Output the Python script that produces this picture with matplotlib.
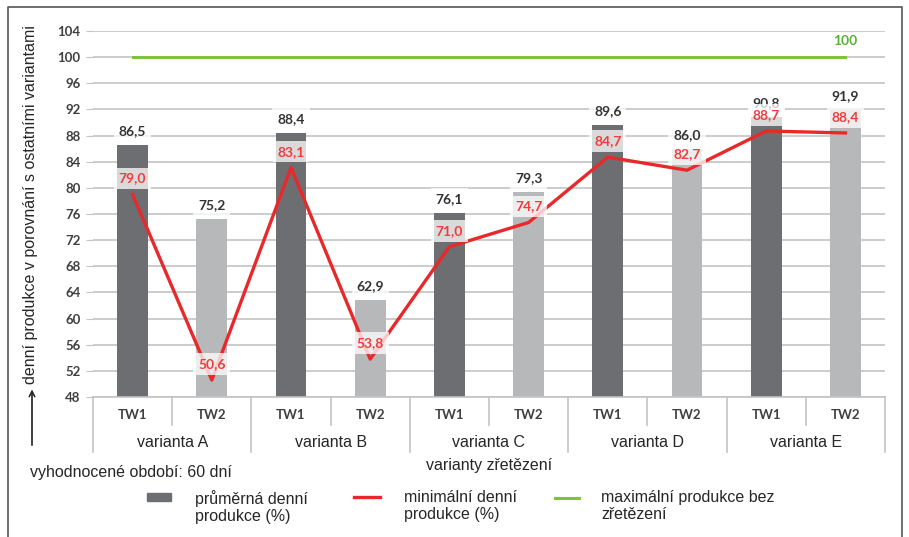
import matplotlib.pyplot as plt
from matplotlib.lines import Line2D
from matplotlib.patches import Rectangle

# data
variants = ['varianta A', 'varianta B', 'varianta C', 'varianta D', 'varianta E']
windows = ['TW1', 'TW2']
avg_prod = [86.5, 75.2, 88.4, 62.9, 76.1, 79.3, 89.6, 86.0, 90.8, 91.9]
min_prod = [79.0, 50.6, 83.1, 53.8, 71.0, 74.7, 84.7, 82.7, 88.7, 88.4]
max_prod = [100, 100, 100, 100, 100, 100, 100, 100, 100, 100]
yticks = [48, 52, 56, 60, 64, 68, 72, 76, 80, 84, 88, 92, 96, 100, 104]

W, H = 909, 537
DARK = '#6d6e71'
LIGHT = '#b6b8ba'
RED = '#e8292b'
GREEN = '#7dc243'
GRID = '#c3c3c3'
TXT = '#262626'
NUM = 'Lato'
SANS = 'Liberation Sans'
FS = 11.5


def fx(px):
    return px / W


def fy(py):
    return 1 - py / H


def fmt(v):
    return f'{v:.1f}'.replace('.', ',')


fig = plt.figure(figsize=(W / 100, H / 100), dpi=100)
ax = fig.add_axes([fx(93), fy(397), 792 / W, 366 / H])

n = len(avg_prod)
xs = [i + 0.5 for i in range(n)]
colors = [DARK if i % 2 == 0 else LIGHT for i in range(n)]

ax.bar(xs, [v - 48 for v in avg_prod], bottom=48, width=0.39, color=colors, zorder=2)
ax.plot(xs, min_prod, color=RED, lw=2.4, zorder=3)
ax.plot(xs, max_prod, color=GREEN, lw=2.2, zorder=3)

box = dict(boxstyle='square,pad=0.35', fc='white', ec='none', alpha=0.75)
for x, v in zip(xs, avg_prod):
    ax.annotate(fmt(v), (x, v), xytext=(0, 14), textcoords='offset pixels',
                ha='center', va='center', fontsize=10, fontweight='bold',
                family=NUM, color='#333333', bbox=box, zorder=4)
for x, v in zip(xs, min_prod):
    ax.annotate(fmt(v), (x, v), xytext=(0, 16), textcoords='offset pixels',
                ha='center', va='center', fontsize=10, fontweight='bold',
                family=NUM, color='#f03c3c', bbox=box, zorder=5)
ax.annotate(str(max_prod[-1]), (xs[-1], max_prod[-1]), xytext=(0, 16),
            textcoords='offset pixels', ha='center', va='center', fontsize=10,
            fontweight='bold', family=NUM, color='#5bb136', zorder=5)

ax.set_xlim(0, n)
ax.set_ylim(yticks[0], yticks[-1])
ax.set_yticks(yticks)
ax.set_yticklabels([str(t) for t in yticks], family=NUM, fontweight='bold',
                   fontsize=9.5, color='#404040')
ax.tick_params(axis='y', length=5, color=GRID, pad=4)
ax.set_xticks([])
ax.yaxis.grid(True, color=GRID, lw=1.2, zorder=0)
ax.set_axisbelow(True)
for side in ['left', 'top', 'right']:
    ax.spines[side].set_visible(False)
ax.spines['bottom'].set_color(GRID)
ax.spines['bottom'].set_linewidth(1.2)

# two-level category axis
xt = ax.get_xaxis_transform()
for b in range(n + 1):
    low = -0.150 if b % 2 == 0 else -0.077
    ax.plot([b, b], [0, low], color=GRID, lw=1.2, transform=xt, clip_on=False)
for i, x in enumerate(xs):
    ax.text(x, -0.049, windows[i % 2], transform=xt, ha='center', va='center',
            family=NUM, fontweight='bold', fontsize=9.5, color='#404040')
for j, name in enumerate(variants):
    ax.text(2 * j + 1, -0.123, name, transform=xt, ha='center', va='center',
            family=SANS, fontsize=FS, color=TXT)
ax.text(n / 2, -0.186, 'varianty zřetězení', transform=xt, ha='center',
        va='center', family=SANS, fontsize=FS, color=TXT)

# y axis title with arrow
fig.text(fx(31), fy(205), 'denní produkce v porovnání s ostatními variantami',
         rotation=90, ha='center', va='center', family=SANS, fontsize=FS, color=TXT)
fig.add_artist(plt.annotate('', xy=(fx(32), fy(387)), xytext=(fx(32), fy(448)),
                            xycoords='figure fraction', textcoords='figure fraction',
                            arrowprops=dict(arrowstyle='->', color=TXT, lw=0.9)))

fig.text(fx(30), fy(472), 'vyhodnocené období: 60 dní', ha='left', va='center',
         family=SANS, fontsize=FS, color=TXT)

# legend
fig.add_artist(Rectangle((fx(147), fy(501)), 24 / W, 8 / H, color=DARK,
                         transform=fig.transFigure))
fig.add_artist(Line2D([fx(354), fx(380)], [fy(497), fy(497)], color=RED, lw=2.4,
                      transform=fig.transFigure))
fig.add_artist(Line2D([fx(555), fx(579)], [fy(498), fy(498)], color=GREEN, lw=2.2,
                      transform=fig.transFigure))
legend_text = [(195, 'průměrná denní\nprodukce (%)'),
               (404, 'minimální denní\nprodukce (%)'),
               (601, 'maximální produkce bez\nzřetězení')]
for px, label in legend_text:
    fig.text(fx(px), fy(490), label, ha='left', va='top', family=SANS,
             fontsize=FS, color=TXT, linespacing=1.15)

# outer frame (open at the bottom)
fig.add_artist(Line2D([fx(8), fx(8), fx(902), fx(902)], [0, fy(7), fy(7), 0],
                      color='#555555', lw=1.2, transform=fig.transFigure))

fig.savefig('out.png', dpi=100)
